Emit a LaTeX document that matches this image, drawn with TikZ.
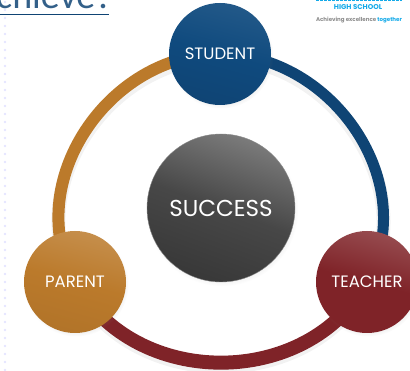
\documentclass[tikz,border=0pt]{standalone}
\usepackage{fontspec}
\setmainfont{Poppins}
\newfontfamily\headfont{Carlito}
\usetikzlibrary{shadows,backgrounds}
\definecolor{navyring}{HTML}{0F4474}
\definecolor{navyhub}{HTML}{0F4A7E}
\definecolor{ochrering}{HTML}{BB7A2B}
\definecolor{maroonring}{HTML}{7F2328}
\definecolor{logoblue}{HTML}{12A9E8}
\tikzset{
  hub/.style={circle, minimum size=102pt, inner sep=0pt, text=white, font=\fontsize{16.5}{16.5}\selectfont,
    circular drop shadow={shadow xshift=1pt, shadow yshift=-2pt, shadow scale=1.03, opacity=.18}},
  ring/.style={line cap=butt, preaction={draw=black, opacity=.05, line width=14pt, transform canvas={yshift=-4pt}}},
}
\begin{document}
\begin{tikzpicture}[x=1pt, y=-1pt]
  \useasboundingbox (0,0) rectangle (410,371);
  \clip (0,0) rectangle (410,371);

  % dotted slide edge
  \foreach \i in {0,...,46}
    \fill[blue!10!white] (5,{8*\i+2}) circle (1.3pt);

  \node[hub, top color=navyhub!92!white, bottom color=navyring, middle color=navyhub, shading angle=-15] (student) at (220,54) {STUDENT};
  \node[hub, top color=ochrering!85!white, bottom color=ochrering!95!black, middle color=ochrering, shading angle=-15] (parent) at (75,282) {PARENT};
  \node[hub, top color=maroonring!82!white, bottom color=maroonring, middle color=maroonring, shading angle=-15] (teacher) at (367,282) {TEACHER};
  \node[hub, minimum size=148pt, top color=black!52, bottom color=black!78, middle color=black!72, shading angle=-20, draw=black!45, font=\fontsize{23}{23}\selectfont] (success) at (221,208) {SUCCESS};

  \begin{scope}[on background layer]
    \draw[ring, ochrering, line width=12pt] (student.center) to[out=180, in=119, looseness=1.06] (parent.center);
    \draw[ring, navyring, line width=11pt] (student.center) to[out=0, in=61, looseness=1.06] (teacher.center);
    \draw[ring, maroonring, line width=14pt] (parent.center) to[out=-61, in=-119, looseness=1.08] (teacher.center);
  \end{scope}

  % heading cut off by the crop
  \node[anchor=base west, inner sep=0pt, text=navyring!85!white, font=\headfont\fontsize{38}{38}\selectfont] (heading) at (-4,9) {chieve?};
  \fill[navyring] (0,14) rectangle (109,15.5);

  % logo
  \draw[logoblue, line width=2pt, dash pattern=on 3pt off 1pt] (316,0.5) -- (402,0.5);
  \node[text=logoblue, font=\bfseries\fontsize{7}{7}\selectfont] (logoname) at (358,7) {HIGH SCHOOL};
  \node[font=\bfseries\fontsize{5.5}{5.5}\selectfont, text=black!45] (logotag) at (359,20.5) {Achieving excellence \textcolor{logoblue}{together}};
\end{tikzpicture}
\end{document}
